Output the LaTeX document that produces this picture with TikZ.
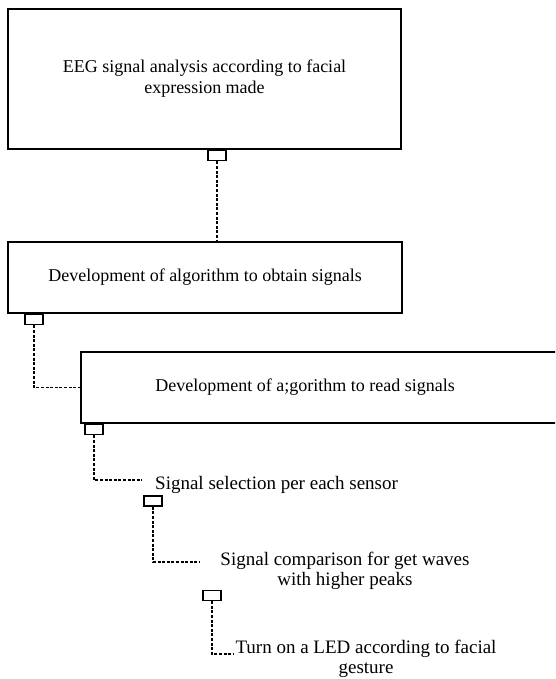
\documentclass[tikz,border=0pt]{standalone}
\usepackage{fontspec}
\setmainfont{Liberation Serif}
\usetikzlibrary{positioning,calc}

\begin{document}
\begin{tikzpicture}
	[x=1pt,y=-1pt,
	bx/.style={draw=black,line width=1.8pt,rectangle,inner sep=0pt,align=center,font=\fontsize{18}{21}\selectfont},
	prt/.style={draw=black,fill=white,line width=1.5pt,rectangle,inner sep=0pt,minimum width=18pt,minimum height=10pt},
	lbl/.style={inner sep=0pt,align=center,font=\fontsize{19}{20}\selectfont},
	lnk/.style={line width=1.7pt,dash pattern=on 3pt off 1.6pt}]
	\useasboundingbox (0,0) rectangle (555,679);
	\clip (0,0) rectangle (555,679);
	%%%%% BOXES
	\node[bx,minimum width=393pt,minimum height=140pt] (caja1) at (204.5,79) {EEG signal analysis according to facial\\expression made};
	\node[bx,minimum width=394pt,minimum height=71pt] (caja2) at (205,277.5) {Development of algorithm to obtain signals};
	\node[bx,minimum width=520pt,minimum height=71pt,anchor=west] (caja3) at (80,387.5) {};
	\node[lbl,font=\fontsize{18}{21}\selectfont] (txt3) at (305,387) {Development of a;gorithm to read signals};
	%%%%% LABELS
	\node[lbl,anchor=base west] (sel) at (155,489) {Signal selection per each sensor};
	\node[lbl] (cmp) at (345,571) {Signal comparison for get waves\\with higher peaks};
	\node[lbl] (led) at (366,659) {Turn on a LED according to facial\\gesture};
	%%%%% PORTS
	\node[prt,anchor=north] (p1) at ([xshift=12.5pt]caja1.south) {};
	\node[prt,anchor=north] (p2) at ([xshift=27pt]caja2.south west) {};
	\node[prt,anchor=north] (p3) at ([xshift=14pt]caja3.south west) {};
	\node[prt] (p4) at (153,501) {};
	\node[prt] (p5) at (212,595.5) {};
	\coordinate (e3) at (142,480);
	\coordinate (e4) at (200,562);
	\coordinate (e5) at (233,654);
	%%%%% LINKS
	\draw[lnk] (p1.south) -- (p1.south |- caja2.north);
	\draw[lnk] (p2.south) |- (caja3.west);
	\draw[lnk] (p3.south) |- (e3);
	\draw[lnk] (p4.south) |- (e4);
	\draw[lnk] (p5.south) |- (e5);
\end{tikzpicture}
\end{document}
